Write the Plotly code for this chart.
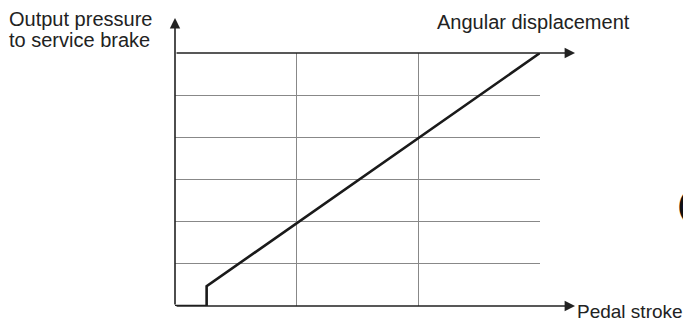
import plotly.graph_objects as go

# --- Data (pedal stroke in grid columns, pressure in grid rows)
stroke = [0, 0.26, 0.26, 3]
pressure = [0, 0, 0.47, 6]
x_grid = [0, 1, 2, 3]
y_grid = [0, 1, 2, 3, 4, 5, 6]

FONT = "Liberation Sans, Arial, sans-serif"

fig = go.Figure()
fig.add_trace(go.Scatter(x=stroke, y=pressure, mode="lines",
                         line=dict(color="#1a1a1a", width=2.6),
                         showlegend=False, hoverinfo="skip"))

# page body has an 8px margin, so the figure is a bit smaller than the window
fig.update_layout(
    width=683, height=316,
    margin=dict(l=167, r=151, t=45, b=18),
    paper_bgcolor="white", plot_bgcolor="white",
    font=dict(family=FONT, size=20, color="#222"),
    xaxis=dict(range=[0, 3], tickvals=x_grid, showticklabels=False,
               showgrid=True, gridcolor="#888888", gridwidth=1.2,
               zeroline=False, showline=False, fixedrange=True),
    yaxis=dict(range=[0, 6], tickvals=y_grid, showticklabels=False,
               showgrid=True, gridcolor="#888888", gridwidth=1.2,
               zeroline=False, showline=False, fixedrange=True),
)

# axis arrows (tails given as pixel offsets from the head)
arrow = dict(xref="paper", yref="paper", axref="pixel", ayref="pixel",
             showarrow=True, arrowhead=2, arrowsize=1.3, arrowwidth=1.6,
             arrowcolor="#222", text="")
fig.add_annotation(x=1.096, y=0, ax=-400, ay=0, **arrow)
fig.add_annotation(x=1.096, y=1, ax=-400, ay=0, **arrow)
fig.add_annotation(x=0, y=1.138, ax=0, ay=288, **arrow)

# labels
label = dict(xref="paper", yref="paper", yanchor="middle", showarrow=False)
fig.add_annotation(x=-0.46, y=1.135, xanchor="left", text="Output pressure", **label)
fig.add_annotation(x=-0.46, y=1.05, xanchor="left", text="to service brake", **label)
fig.add_annotation(x=0.981, y=1.122, xanchor="center", text="Angular displacement", **label)
fig.add_annotation(x=1.095, y=-0.02, xanchor="left", text="Pedal stroke",
                   font=dict(size=19), **label)
fig.add_annotation(x=1.372, y=0.40, xanchor="left", text="<b>(</b>",
                   font=dict(size=28, color="#111"), **label)

fig.write_html("out.html")
